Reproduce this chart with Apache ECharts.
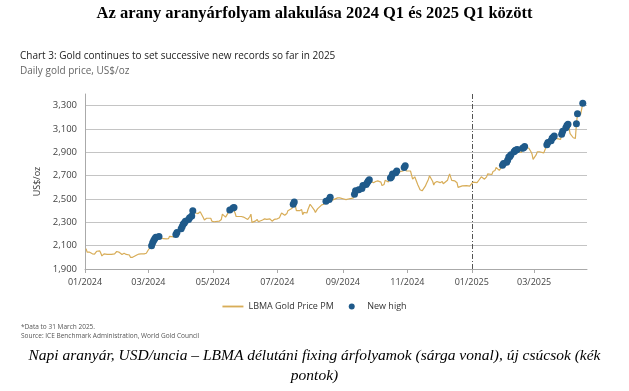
<!DOCTYPE html>
<html><head><meta charset="utf-8">
<script src="https://cdn.jsdelivr.net/npm/echarts@6/dist/echarts.min.js"></script>
<style>html,body{margin:0;padding:0;background:#fff}#c{width:629px;height:391px}</style>
</head><body><div id="c"></div>
<script>
const mainTitle = 'Az arany aranyárfolyam alakulása 2024 Q1 és 2025 Q1 között';
const chartTitle = 'Chart 3: Gold continues to set successive new records so far in 2025';
const chartSubtitle = 'Daily gold price, US$/oz';
const yAxisName = 'US$/oz';
const seriesNames = ['LBMA Gold Price PM', 'New high'];
const footnotes = ['*Data to 31 March 2025.', 'Source: ICE Benchmark Administration, World Gold Council'];
const captionLines = ['Napi aranyár, USD/uncia – LBMA délutáni fixing árfolyamok (sárga vonal), új csúcsok (kék', 'pontok)'];
const xTickDates = ['2024-01-01','2024-03-01','2024-05-01','2024-07-01','2024-09-01','2024-11-01','2025-01-01','2025-03-01'];
const xRange = ['2024-01-01','2025-04-20'];
const dividerDate = '2025-01-01';
const yTickValues = [1900,2100,2300,2500,2700,2900,3100,3300];
const yRange = [1900,3400];

const goldPM = [
['2024-01-02',2075],['2024-01-03',2045],['2024-01-04',2040],['2024-01-05',2045],['2024-01-08',2030],['2024-01-09',2030],['2024-01-10',2028],['2024-01-11',2040],['2024-01-12',2052],['2024-01-15',2055],['2024-01-16',2035],['2024-01-17',2012],['2024-01-18',2020],['2024-01-19',2030],['2024-01-22',2025],['2024-01-23',2020],['2024-01-24',2025],['2024-01-25',2020],['2024-01-26',2025],['2024-01-29',2030],['2024-01-30',2035],['2024-01-31',2050],
['2024-02-01',2055],['2024-02-02',2045],['2024-02-05',2025],['2024-02-06',2030],['2024-02-07',2035],['2024-02-08',2030],['2024-02-09',2025],['2024-02-12',2020],['2024-02-13',2000],['2024-02-14',1992],['2024-02-15',2000],['2024-02-16',2010],['2024-02-19',2020],['2024-02-20',2025],['2024-02-21',2028],['2024-02-22',2025],['2024-02-23',2030],['2024-02-26',2030],['2024-02-27',2032],['2024-02-28',2035],['2024-02-29',2045],
['2024-03-01',2065],['2024-03-04',2100],['2024-03-05',2125],['2024-03-06',2145],['2024-03-07',2160],['2024-03-08',2172],['2024-03-11',2178],['2024-03-12',2165],['2024-03-13',2170],['2024-03-14',2165],['2024-03-15',2160],['2024-03-18',2158],['2024-03-19',2155],['2024-03-20',2160],['2024-03-21',2180],['2024-03-22',2170],['2024-03-25',2175],['2024-03-26',2185],['2024-03-27',2195],['2024-03-28',2212],
['2024-04-01',2245],['2024-04-02',2265],['2024-04-03',2285],['2024-04-04',2295],['2024-04-05',2310],['2024-04-08',2325],['2024-04-09',2340],['2024-04-10',2335],['2024-04-11',2355],['2024-04-12',2400],['2024-04-15',2380],['2024-04-16',2370],['2024-04-17',2375],['2024-04-18',2385],['2024-04-19',2390],['2024-04-22',2340],['2024-04-23',2320],['2024-04-24',2330],['2024-04-25',2335],['2024-04-26',2340],['2024-04-29',2335],['2024-04-30',2310],
['2024-05-01',2300],['2024-05-02',2305],['2024-05-03',2295],['2024-05-07',2310],['2024-05-08',2310],['2024-05-09',2325],['2024-05-10',2370],['2024-05-13',2345],['2024-05-14',2350],['2024-05-15',2375],['2024-05-16',2380],['2024-05-17',2405],['2024-05-20',2422],['2024-05-21',2428],['2024-05-22',2380],['2024-05-23',2350],['2024-05-24',2340],['2024-05-28',2350],['2024-05-29',2340],['2024-05-30',2345],['2024-05-31',2340],
['2024-06-03',2325],['2024-06-04',2340],['2024-06-05',2350],['2024-06-06',2370],['2024-06-07',2300],['2024-06-10',2310],['2024-06-11',2310],['2024-06-12',2325],['2024-06-13',2305],['2024-06-14',2320],['2024-06-17',2320],['2024-06-18',2325],['2024-06-19',2330],['2024-06-20',2345],['2024-06-21',2325],['2024-06-24',2330],['2024-06-25',2320],['2024-06-26',2310],['2024-06-27',2320],['2024-06-28',2325],
['2024-07-01',2330],['2024-07-02',2325],['2024-07-03',2340],['2024-07-04',2360],['2024-07-05',2380],['2024-07-08',2360],['2024-07-09',2365],['2024-07-10',2375],['2024-07-11',2400],['2024-07-12',2410],['2024-07-15',2420],['2024-07-16',2455],['2024-07-17',2475],['2024-07-18',2445],['2024-07-19',2400],['2024-07-22',2400],['2024-07-23',2405],['2024-07-24',2410],['2024-07-25',2365],['2024-07-26',2385],['2024-07-29',2380],['2024-07-30',2410],['2024-07-31',2425],
['2024-08-01',2455],['2024-08-02',2440],['2024-08-05',2405],['2024-08-06',2385],['2024-08-07',2390],['2024-08-08',2415],['2024-08-09',2430],['2024-08-12',2450],['2024-08-13',2465],['2024-08-14',2455],['2024-08-15',2460],['2024-08-16',2480],['2024-08-19',2495],['2024-08-20',2515],['2024-08-21',2505],['2024-08-22',2490],['2024-08-23',2505],['2024-08-27',2510],['2024-08-28',2505],['2024-08-29',2510],['2024-08-30',2505],
['2024-09-02',2500],['2024-09-03',2485],['2024-09-04',2495],['2024-09-05',2510],['2024-09-06',2500],['2024-09-09',2505],['2024-09-10',2505],['2024-09-11',2510],['2024-09-12',2540],['2024-09-13',2570],['2024-09-16',2580],['2024-09-17',2570],['2024-09-18',2575],['2024-09-19',2590],['2024-09-20',2615],['2024-09-23',2625],['2024-09-24',2640],['2024-09-25',2655],['2024-09-26',2665],['2024-09-27',2655],['2024-09-30',2640],
['2024-10-01',2655],['2024-10-02',2650],['2024-10-03',2650],['2024-10-04',2655],['2024-10-07',2645],['2024-10-08',2615],['2024-10-09',2610],['2024-10-10',2625],['2024-10-11',2660],['2024-10-14',2645],['2024-10-15',2660],['2024-10-16',2680],['2024-10-17',2690],['2024-10-18',2715],['2024-10-21',2725],['2024-10-22',2740],['2024-10-23',2725],['2024-10-24',2735],['2024-10-25',2735],['2024-10-28',2740],['2024-10-29',2770],['2024-10-30',2785],['2024-10-31',2740],
['2024-11-01',2740],['2024-11-04',2740],['2024-11-05',2745],['2024-11-06',2670],['2024-11-07',2675],['2024-11-08',2690],['2024-11-11',2620],['2024-11-12',2600],['2024-11-13',2580],['2024-11-14',2565],['2024-11-15',2570],['2024-11-18',2610],['2024-11-19',2630],['2024-11-20',2650],['2024-11-21',2670],['2024-11-22',2700],['2024-11-25',2650],['2024-11-26',2620],['2024-11-27',2640],['2024-11-28',2645],['2024-11-29',2650],
['2024-12-02',2640],['2024-12-03',2640],['2024-12-04',2650],['2024-12-05',2630],['2024-12-06',2635],['2024-12-09',2660],['2024-12-10',2690],['2024-12-11',2715],['2024-12-12',2700],['2024-12-13',2660],['2024-12-16',2655],['2024-12-17',2645],['2024-12-18',2640],['2024-12-19',2600],['2024-12-20',2610],['2024-12-23',2612],['2024-12-24',2615],['2024-12-27',2615],['2024-12-30',2610],['2024-12-31',2610],
['2025-01-02',2645],['2025-01-03',2650],['2025-01-06',2640],['2025-01-07',2650],['2025-01-08',2665],['2025-01-09',2670],['2025-01-10',2690],['2025-01-13',2670],['2025-01-14',2675],['2025-01-15',2690],['2025-01-16',2715],['2025-01-17',2705],['2025-01-20',2710],['2025-01-21',2735],['2025-01-22',2750],['2025-01-23',2745],['2025-01-24',2770],['2025-01-27',2745],['2025-01-28',2755],['2025-01-29',2770],['2025-01-30',2790],['2025-01-31',2805],
['2025-02-03',2815],['2025-02-04',2835],['2025-02-05',2860],['2025-02-06',2865],['2025-02-07',2880],['2025-02-10',2905],['2025-02-11',2915],['2025-02-12',2920],['2025-02-13',2925],['2025-02-14',2905],['2025-02-17',2900],['2025-02-18',2935],['2025-02-19',2940],['2025-02-20',2950],['2025-02-21',2940],['2025-02-24',2935],['2025-02-25',2920],['2025-02-26',2905],['2025-02-27',2885],['2025-02-28',2840],
['2025-03-03',2880],['2025-03-04',2905],['2025-03-05',2915],['2025-03-06',2905],['2025-03-07',2910],['2025-03-10',2895],['2025-03-11',2915],['2025-03-12',2930],['2025-03-13',2965],['2025-03-14',2985],['2025-03-17',3000],['2025-03-18',3020],['2025-03-19',3030],['2025-03-20',3040],['2025-03-21',3020],['2025-03-24',3015],['2025-03-25',3020],['2025-03-26',3010],['2025-03-27',3055],['2025-03-28',3080],['2025-03-31',3110],
['2025-04-01',3130],['2025-04-02',3140],['2025-04-03',3110],['2025-04-04',3060],['2025-04-07',3025],['2025-04-08',3010],['2025-04-09',3020],['2025-04-10',3145],['2025-04-11',3230],['2025-04-14',3225],['2025-04-15',3220],['2025-04-16',3320]
];

const newHighDates = [
'2024-03-04','2024-03-05','2024-03-06','2024-03-07','2024-03-08','2024-03-11','2024-03-27','2024-03-28',
'2024-04-01','2024-04-02','2024-04-03','2024-04-04','2024-04-05','2024-04-08','2024-04-09','2024-04-11','2024-04-12',
'2024-05-17','2024-05-20','2024-05-21','2024-07-16','2024-07-17','2024-08-16','2024-08-19','2024-08-20',
'2024-09-12','2024-09-13','2024-09-16','2024-09-19','2024-09-20','2024-09-23','2024-09-24','2024-09-25','2024-09-26',
'2024-10-16','2024-10-17','2024-10-18','2024-10-21','2024-10-22','2024-10-29','2024-10-30',
'2025-01-30','2025-01-31','2025-02-03','2025-02-04','2025-02-05','2025-02-06','2025-02-07','2025-02-10','2025-02-11','2025-02-12','2025-02-13','2025-02-18','2025-02-19','2025-02-20',
'2025-03-13','2025-03-14','2025-03-17','2025-03-18','2025-03-19','2025-03-20','2025-03-27','2025-03-28','2025-03-31','2025-04-01','2025-04-02','2025-04-10','2025-04-11','2025-04-16'
];

const ts = d => { const p = d.split('-').map(Number); return Date.UTC(p[0], p[1] - 1, p[2]); };
const priceByDate = Object.fromEntries(goldPM);
const lineData = goldPM.map(([d, v]) => [ts(d), v]);
const highPoints = newHighDates.map(d => [ts(d), priceByDate[d]]);
const sans = 'Open Sans';
const serif = 'Liberation Serif';
const goldColor = '#D8AD58';
const blueColor = '#1F5A8A';

const chart = echarts.init(document.getElementById('c'), null, {renderer: 'canvas'});
chart.setOption({
  animation: false,
  backgroundColor: '#fff',
  title: [
    {text: mainTitle, left: 'center', top: 5, padding: 0, textStyle: {fontFamily: serif, fontWeight: 'bold', fontSize: 16.5, color: '#000'}},
    {text: chartTitle, left: 20, top: 51, padding: 0, textStyle: {fontFamily: sans, fontWeight: 'normal', fontSize: 10, color: '#222'}},
    {text: chartSubtitle, left: 20, top: 66, padding: 0, textStyle: {fontFamily: sans, fontWeight: 'normal', fontSize: 10, color: '#666'}},
    {text: footnotes[0], left: 21, top: 324, padding: 0, textStyle: {fontFamily: sans, fontWeight: 'normal', fontSize: 6.5, color: '#555'}},
    {text: footnotes[1], left: 21, top: 333, padding: 0, textStyle: {fontFamily: sans, fontWeight: 'normal', fontSize: 6.5, color: '#555'}},
    {text: captionLines[0], left: 'center', top: 348, padding: 0, textStyle: {fontFamily: serif, fontStyle: 'italic', fontWeight: 'normal', fontSize: 15.5, color: '#000'}},
    {text: captionLines[1], left: 'center', top: 368, padding: 0, textStyle: {fontFamily: serif, fontStyle: 'italic', fontWeight: 'normal', fontSize: 15.5, color: '#000'}}
  ],
  legend: {
    left: 'center', top: 297, itemWidth: 21, itemHeight: 6, itemGap: 15,
    textStyle: {fontFamily: sans, fontSize: 9, color: '#333'},
    data: [
      {name: seriesNames[0], icon: 'path://M0 0H40V3.5H0Z', itemStyle: {color: goldColor}},
      {name: seriesNames[1], icon: 'circle'}
    ]
  },
  grid: {left: 85, right: 42, top: 94, bottom: 122},
  xAxis: {
    type: 'value', min: ts(xRange[0]), max: ts(xRange[1]), scale: true,
    axisLine: {show: true, lineStyle: {color: '#aaa', width: 1}},
    axisTick: {show: true, length: 4, lineStyle: {color: '#aaa'}, customValues: xTickDates.map(ts)},
    axisLabel: {
      customValues: xTickDates.map(ts), margin: 9, fontFamily: sans, fontSize: 9, color: '#444',
      formatter: v => { const d = new Date(v); return String(d.getUTCMonth() + 1).padStart(2, '0') + '/' + d.getUTCFullYear(); }
    },
    splitLine: {show: false}
  },
  yAxis: {
    type: 'value', min: yRange[0], max: yRange[1], interval: 100,
    name: yAxisName, nameLocation: 'middle', nameGap: 39, nameRotate: 90,
    nameTextStyle: {fontFamily: sans, fontSize: 9, color: '#333'},
    axisLine: {show: true, lineStyle: {color: '#aaa', width: 1}},
    axisTick: {show: false},
    axisLabel: {margin: 8, fontFamily: sans, fontSize: 9.5, color: '#444',
      formatter: v => yTickValues.includes(v) ? v.toLocaleString('en-US') : ''},
    splitLine: {show: true, lineStyle: {color: ['#c4c4c4', 'rgba(0,0,0,0)'], width: 1}}
  },
  series: [
    {
      name: seriesNames[0], type: 'line', data: lineData, symbol: 'none', showSymbol: false,
      lineStyle: {color: goldColor, width: 1.2}, itemStyle: {color: goldColor},
      markLine: {
        silent: true, symbol: ['none', 'none'], label: {show: false},
        lineStyle: {color: '#555', width: 1, type: [5, 2, 1, 2]},
        data: [{xAxis: ts(dividerDate)}]
      },
      z: 2
    },
    {
      name: seriesNames[1], type: 'scatter', data: highPoints, symbol: 'circle', symbolSize: 7,
      itemStyle: {color: blueColor, opacity: 1}, z: 3
    }
  ]
});
</script>
</body></html>
